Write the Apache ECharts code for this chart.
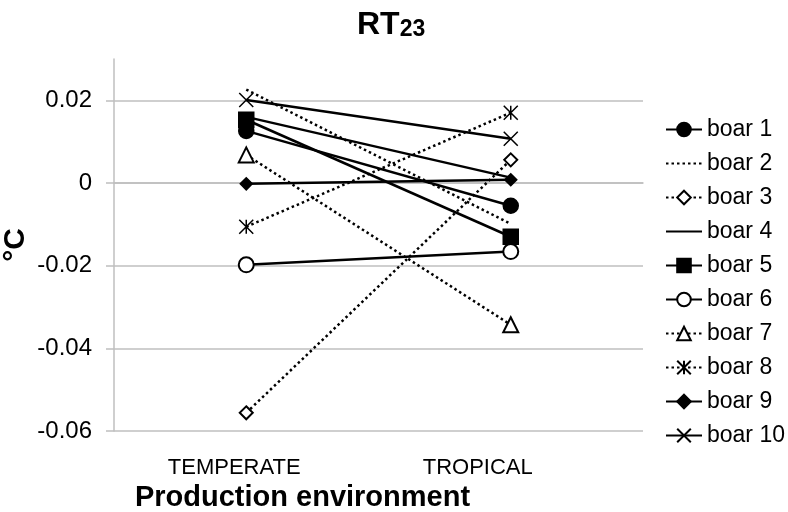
<!DOCTYPE html>
<html><head><meta charset="utf-8">
<script src="https://cdn.jsdelivr.net/npm/echarts@6/dist/echarts.min.js"></script>
<style>html,body{margin:0;padding:0;background:#fff}#c{width:788px;height:512px}</style>
</head><body><div id="c"></div>
<script>
// ---- data ----
const categories = ['TEMPERATE', 'TROPICAL'];
const seriesNames = ['boar 1','boar 2','boar 3','boar 4','boar 5','boar 6','boar 7','boar 8','boar 9','boar 10'];
const boar1 = [0.0126, -0.0055];
const boar2 = [0.0226, -0.0099];
const boar3 = [-0.0556, 0.0056];
const boar4 = [0.0160, 0.0013];
const boar5 = [0.0153, -0.0130];
const boar6 = [-0.0198, -0.0166];
const boar7 = [0.0068, -0.0343];
const boar8 = [-0.0106, 0.0170];
const boar9 = [-0.0002, 0.0008];
const boar10 = [0.0201, 0.0107];
const yTickValues = [-0.06, -0.04, -0.02, 0, 0.02];
const yAxisTitle = '°C';
const seriesValues = [boar1, boar2, boar3, boar4, boar5, boar6, boar7, boar8, boar9, boar10];

// ---- styles ----
const FONT = 'Liberation Sans, Arial, sans-serif';
const CROSS = 'path://M0,0L10,10M10,0L0,10';
const STAR = 'path://M0,0L10,10M10,0L0,10M5,0L5,10';
const styles = [
  {symbol: 'circle', size: 15, dotted: false, fill: '#000'},
  {symbol: 'none', size: 0, dotted: true, fill: '#000'},
  {symbol: 'emptyDiamond', size: 13, dotted: true, fill: '#000'},
  {symbol: 'none', size: 0, dotted: false, fill: '#000'},
  {symbol: 'rect', size: 15, dotted: false, fill: '#000'},
  {symbol: 'emptyCircle', size: 15, dotted: false, fill: '#000'},
  {symbol: 'emptyTriangle', size: 15, dotted: true, fill: '#000'},
  {symbol: STAR, size: 14, dotted: true, fill: 'none'},
  {symbol: 'diamond', size: 12, dotted: false, fill: '#000'},
  {symbol: CROSS, size: 14, dotted: false, fill: 'none'}
];

const series = seriesNames.map((name, i) => {
  const st = styles[i];
  return {
    name: name,
    type: 'line',
    data: seriesValues[i],
    symbol: st.symbol,
    symbolSize: st.size,
    showSymbol: st.symbol !== 'none',
    lineStyle: {color: '#000', width: 2.5, type: st.dotted ? [2.5, 3] : 'solid'},
    itemStyle: {color: st.fill, borderColor: '#000', borderWidth: 1.5},
    emphasis: {disabled: true}
  };
});

const legendData = seriesNames.map((name, i) => {
  if (styles[i].symbol === 'none') {
    return {name: name, itemStyle: {color: 'rgba(0,0,0,0)', borderColor: 'rgba(0,0,0,0)', borderWidth: 0}};
  }
  return {name: name};
});

const chart = echarts.init(document.getElementById('c'), null, {renderer: 'canvas'});
chart.setOption({
  animation: false,
  backgroundColor: '#fff',
  title: {
    text: '{a|RT}{b|23}',
    left: 352,
    top: 0,
    textStyle: {
      rich: {
        a: {fontSize: 32, fontWeight: 'bold', fontFamily: FONT, color: '#000', verticalAlign: 'bottom', lineHeight: 36},
        b: {fontSize: 23, fontWeight: 'bold', fontFamily: FONT, color: '#000', verticalAlign: 'bottom', lineHeight: 36}
      }
    }
  },
  legend: {
    orient: 'vertical',
    left: 660,
    top: 113,
    itemWidth: 36,
    itemHeight: 17,
    itemGap: 11,
    textStyle: {fontSize: 23, fontFamily: FONT, color: '#000'},
    data: legendData
  },
  graphic: [{
    type: 'text',
    x: 16,
    y: 245,
    rotation: Math.PI / 2,
    style: {text: yAxisTitle, font: 'bold 30px Liberation Sans, Arial, sans-serif', fill: '#000', align: 'center', verticalAlign: 'middle'}
  }],
  grid: {left: 114, right: 145, top: 59, bottom: 81, containLabel: false, outerBoundsMode: 'none'},
  xAxis: {
    type: 'category',
    data: categories,
    boundaryGap: true,
    axisLine: {lineStyle: {color: '#bfbfbf', width: 1.5}},
    axisTick: {show: false},
    axisLabel: {
      margin: 26,
      formatter: (v, i) => (i === 0 ? '{a|' + v + '}' : '{b|' + v + '}'),
      rich: {
        a: {fontSize: 22, fontFamily: FONT, color: '#000', padding: [0, 24, 0, 0]},
        b: {fontSize: 22, fontFamily: FONT, color: '#000', padding: [0, 66, 0, 0]}
      }
    },
    name: 'Production environment',
    nameLocation: 'middle',
    nameGap: 52,
    nameMoveOverlap: false,
    nameTextStyle: {fontSize: 29, fontWeight: 'bold', fontFamily: FONT, color: '#000', padding: [0, 152, 0, 0]}
  },
  yAxis: {
    type: 'value',
    min: -0.06,
    max: 0.03,
    interval: 0.02,
    axisLine: {show: true, lineStyle: {color: '#bfbfbf', width: 1.5}},
    axisTick: {show: true, length: 8, lineStyle: {color: '#bfbfbf', width: 1.5}, customValues: yTickValues},
    axisLabel: {fontSize: 24, fontFamily: FONT, color: '#000', margin: 22, customValues: yTickValues},
    splitLine: {show: true, lineStyle: {color: ['#bfbfbf', '#bfbfbf', '#bfbfbf', '#bfbfbf', '#bfbfbf', 'rgba(0,0,0,0)'], width: 1.5}}
  },
  series: series
});
</script>
</body></html>
